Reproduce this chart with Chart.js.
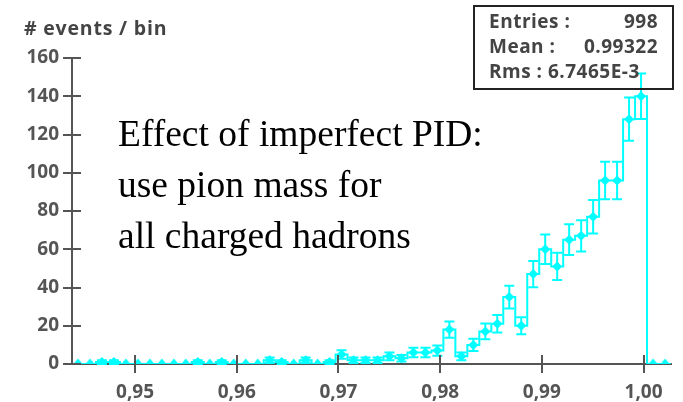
<!DOCTYPE html>
<html>
<head>
<meta charset="utf-8">
<script src="https://cdn.jsdelivr.net/npm/chart.js@4.4.0/dist/chart.umd.min.js"></script>
<style>
    body { margin: 0; background: #fff; }
    #wrap { position: relative; width: 683px; height: 402px; overflow: hidden; }
    #yTitle {
        position: absolute; left: 24px; top: 18px;
        font: bold 19.5px "Open Sans", sans-serif; color: #444; line-height: 20px; letter-spacing: 0.8px;
    }
    #note {
        position: absolute; left: 118px; top: 108px;
        font: 37.5px "Liberation Serif", "Times New Roman", serif; color: #000; line-height: 51px;
    }
    #stats {
        position: absolute; left: 473px; top: 5px; width: 197px; height: 79px;
        border: 2px solid #222; padding-top: 2px; box-sizing: content-box;
        font: bold 19px "Open Sans", sans-serif; color: #444; letter-spacing: 0.5px;
    }
    #stats .row { display: flex; justify-content: space-between; height: 25px; line-height: 25px; padding: 0 14px 0 14px; }
</style>
</head>
<body>
<div id="wrap">
    <canvas id="histChart" width="683" height="402"></canvas>
    <div id="yTitle"># events / bin</div>
    <div id="note">Effect of imperfect PID:<br>use pion mass for<br>all charged hadrons</div>
    <div id="stats">
        <div class="row"><span>Entries :</span><span>998</span></div>
        <div class="row"><span>Mean :</span><span>0.99322</span></div>
        <div class="row"><span>Rms : 6.7465E-3</span></div>
    </div>
</div>
<script>
// Histogram range and bin contents
const histMin = 0.9438;
const histMax = 1.0027;
const binCounts = [
    0, 0, 1, 1, 0, 0, 0, 0, 0, 0,
    1, 0, 1, 0, 0, 0, 2, 1, 0, 2,
    0, 1, 5, 2, 2, 2, 4, 3, 6, 6,
    7, 18, 4, 10, 17, 21, 35, 20, 47, 60,
    51, 65, 67, 77, 96, 96, 128, 140, 0, 0
];

// Axis ticks
const xTickValues = [0.95, 0.96, 0.97, 0.98, 0.99, 1.00];
const xTickLabels = ['0,95', '0,96', '0,97', '0,98', '0,99', '1,00'];
const yTickValues = [0, 20, 40, 60, 80, 100, 120, 140, 160];

const histColor = '#00ffff';
const axisColor = '#555';
const tickFont = { family: 'Open Sans', size: 19, weight: 'bold' };

const binWidth = (histMax - histMin) / binCounts.length;
const binEdges = binCounts.map((_, i) => histMin + i * binWidth).concat([histMax]);
const binCenters = binCounts.map((_, i) => histMin + (i + 0.5) * binWidth);

// step outline: each lower edge carries its bin's count, last edge closes the outline
const stepData = binEdges.map((x, i) => ({ x: x, y: binCounts[Math.min(i, binCounts.length - 1)] }));
const filledPoints = [];
const emptyPoints = [];
binCounts.forEach((c, i) => {
    if (c > 0) filledPoints.push({ x: binCenters[i], y: c, err: Math.sqrt(c) });
    else emptyPoints.push({ x: binCenters[i], y: 0 });
});

// triangle marker whose base sits on the point
const tri = document.createElement('canvas');
tri.width = 9; tri.height = 12;
(function () {
    const c = tri.getContext('2d');
    c.fillStyle = histColor;
    c.beginPath();
    c.moveTo(0, 6); c.lineTo(9, 6); c.lineTo(4.5, 0.5); c.closePath();
    c.fill();
})();

// error bars + inner halves of the axis ticks
const errorBarPlugin = {
    id: 'errorBars',
    afterDatasetsDraw(chart) {
        const ctx = chart.ctx;
        const xs = chart.scales.x, ys = chart.scales.y;
        ctx.save();
        ctx.strokeStyle = histColor;
        ctx.lineWidth = 2;
        filledPoints.forEach(p => {
            const px = xs.getPixelForValue(p.x);
            const top = ys.getPixelForValue(p.y + p.err);
            const bot = ys.getPixelForValue(Math.max(0, p.y - p.err));
            ctx.beginPath();
            ctx.moveTo(px, top); ctx.lineTo(px, bot);
            ctx.moveTo(px - 5, top); ctx.lineTo(px + 5, top);
            ctx.moveTo(px - 5, bot); ctx.lineTo(px + 5, bot);
            ctx.stroke();
        });
        ctx.restore();
    },
    afterDraw(chart) {
        const ctx = chart.ctx;
        const xs = chart.scales.x, ys = chart.scales.y;
        const area = chart.chartArea;
        ctx.save();
        ctx.strokeStyle = axisColor;
        ctx.lineWidth = 2;
        ctx.beginPath();
        xTickValues.forEach(v => {
            const px = Math.round(xs.getPixelForValue(v));
            ctx.moveTo(px, area.bottom); ctx.lineTo(px, area.bottom - 9);
        });
        yTickValues.forEach(v => {
            const py = Math.round(ys.getPixelForValue(v));
            ctx.moveTo(area.left, py); ctx.lineTo(area.left + 9, py);
        });
        ctx.stroke();
        ctx.restore();
    }
};

const chart = new Chart(document.getElementById('histChart'), {
    type: 'scatter',
    data: {
        datasets: [
            {
                type: 'line',
                data: stepData,
                stepped: 'before',
                borderColor: histColor,
                borderWidth: 2,
                pointRadius: 0,
                fill: false
            },
            {
                data: filledPoints,
                pointStyle: 'rectRot',
                pointRadius: 5,
                backgroundColor: histColor,
                borderColor: histColor,
                borderWidth: 0
            },
            {
                data: emptyPoints,
                pointStyle: tri,
                pointRadius: 5
            }
        ]
    },
    options: {
        responsive: false,
        animation: false,
        layout: { padding: { top: 58, right: 12, left: 0, bottom: 0 } },
        plugins: { legend: { display: false }, tooltip: { enabled: false } },
        scales: {
            x: {
                type: 'linear',
                min: histMin,
                max: histMax,
                z: 1,
                afterBuildTicks: axis => { axis.ticks = xTickValues.map(v => ({ value: v })); },
                afterFit: axis => { axis.height = 38; },
                ticks: {
                    autoSkip: false,
                    maxRotation: 0,
                    padding: 8,
                    color: axisColor,
                    font: tickFont,
                    callback: (value, index) => xTickLabels[index]
                },
                grid: { drawOnChartArea: false, tickLength: 9, color: axisColor, lineWidth: 2 },
                border: { color: axisColor, width: 2 }
            },
            y: {
                min: 0,
                max: 160,
                z: 1,
                afterBuildTicks: axis => { axis.ticks = yTickValues.map(v => ({ value: v })); },
                afterFit: axis => { axis.width = 72; },
                ticks: { padding: 4, color: axisColor, font: tickFont },
                grid: { drawOnChartArea: false, tickLength: 9, color: axisColor, lineWidth: 2 },
                border: { color: axisColor, width: 2 }
            }
        }
    },
    plugins: [errorBarPlugin]
});
</script>
</body>
</html>
